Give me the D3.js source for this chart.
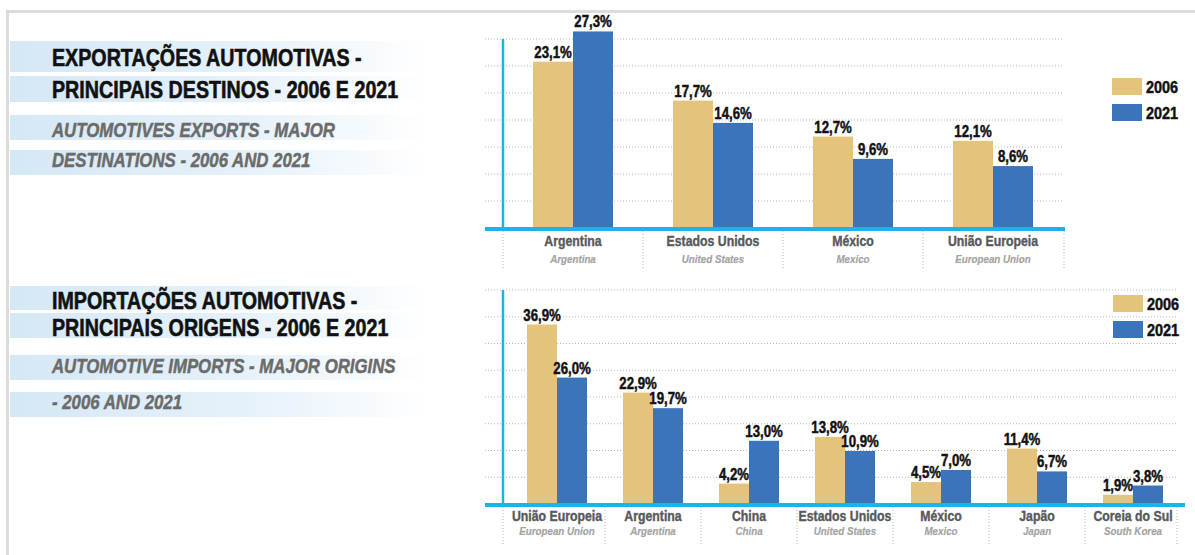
<!DOCTYPE html>
<html>
<head>
<meta charset="utf-8">
<title>Exportações e importações automotivas</title>
<script src="https://cdn.jsdelivr.net/npm/d3@7/dist/d3.min.js"></script>
<style>
  body { margin: 0; background: #fff; }
  svg { display: block; font-family: "Liberation Sans", Arial, sans-serif; }
</style>
</head>
<body>
<svg id="chart" width="1195" height="555"></svg>
<script>
// data
var years = ["2006", "2021"];

var expCats = ["Argentina", "Estados Unidos", "México", "União Europeia"];
var expCatsEn = ["Argentina", "United States", "Mexico", "European Union"];
var exp2006 = [23.1, 17.7, 12.7, 12.1];
var exp2021 = [27.3, 14.6, 9.6, 8.6];

var impCats = ["União Europeia", "Argentina", "China", "Estados Unidos", "México", "Japão", "Coreia do Sul"];
var impCatsEn = ["European Union", "Argentina", "China", "United States", "Mexico", "Japan", "South Korea"];
var imp2006 = [36.9, 22.9, 4.2, 13.8, 4.5, 11.4, 1.9];
var imp2021 = [26.0, 19.7, 13.0, 10.9, 7.0, 6.7, 3.8];

var expTitle = ["EXPORTAÇÕES AUTOMOTIVAS -", "PRINCIPAIS DESTINOS - 2006 E 2021"];
var expSub = ["AUTOMOTIVES EXPORTS - MAJOR", "DESTINATIONS - 2006 AND 2021"];
var impTitle = ["IMPORTAÇÕES AUTOMOTIVAS -", "PRINCIPAIS ORIGENS - 2006 E 2021"];
var impSub = ["AUTOMOTIVE IMPORTS - MAJOR ORIGINS", "- 2006 AND 2021"];

var color = {"2006": "#e4c47c", "2021": "#3a74ba"};
var cyan = "#1db2ea";
var fmt = function(v) { return d3.format(".1f")(v).replace(".", ",") + "%"; };

var svg = d3.select("#chart");

// gradient for the title stripes
var grad = svg.append("defs").append("linearGradient")
    .attr("id", "stripe")
    .attr("x1", 0).attr("x2", 1).attr("y1", 0).attr("y2", 0);
grad.append("stop").attr("offset", 0).attr("stop-color", "#d5e8f6");
grad.append("stop").attr("offset", 0.55).attr("stop-color", "#e5f1fa");
grad.append("stop").attr("offset", 1).attr("stop-color", "#ffffff");

// frame
svg.append("line").attr("x1", 6).attr("x2", 1195).attr("y1", 11.5).attr("y2", 11.5)
    .attr("stroke", "#dcdcdc").attr("stroke-width", 3);
svg.append("line").attr("x1", 7.5).attr("x2", 7.5).attr("y1", 10).attr("y2", 555)
    .attr("stroke", "#dcdcdc").attr("stroke-width", 3);

// condensed, heavy text (scaled horizontally, thickened with a stroke)
function ctext(g, x, y, str, size, fill, sq, heavy) {
    return g.append("text")
        .attr("transform", "translate(" + x + "," + y + ") scale(" + sq + ",1)")
        .attr("font-size", size).attr("font-weight", "bold")
        .attr("fill", fill).attr("stroke", fill).attr("stroke-width", heavy)
        .text(str);
}

function drawTitle(lines, subs, stripes, bases) {
    var g = svg.append("g");
    g.selectAll("rect").data(stripes).join("rect")
        .attr("x", 10).attr("width", 420)
        .attr("y", d => d[0]).attr("height", d => d[1] - d[0])
        .attr("fill", "url(#stripe)");
    lines.forEach(function(t, i) {
        ctext(g, 52, bases[i], t, 24, "#111", 0.82, 0.6);
    });
    subs.forEach(function(t, i) {
        ctext(g, 52, bases[i + 2], t, 21, "#6b6b6b", 0.8, 0.5)
            .attr("font-style", "italic");
    });
}

function drawChart(o) {
    var g = svg.append("g");
    var x = d3.scaleBand().domain(o.cats).range([o.bandL, o.bandR]);
    var xi = d3.scaleBand().domain(years).range([0, x.bandwidth()]).paddingOuter(o.pad);
    var y = d3.scaleLinear().domain([0, o.step * o.nGrid]).range([o.base, o.top]);

    // dotted grid
    g.selectAll("line.grid").data(d3.range(1, o.nGrid + 1).map(k => k * o.step)).join("line")
        .attr("class", "grid")
        .attr("x1", o.left - 18).attr("x2", o.gridEnd)
        .attr("y1", d => y(d)).attr("y2", d => y(d))
        .attr("stroke", "#b5b5b5").attr("stroke-dasharray", "1,2");

    // category separators
    var seps = [o.left].concat(o.cats.slice(1).map(c => x(c))).concat([o.gridEnd]);
    g.selectAll("line.sep").data(seps).join("line")
        .attr("class", "sep")
        .attr("x1", d => d).attr("x2", d => d)
        .attr("y1", o.base + 3).attr("y2", o.base + 40)
        .attr("stroke", "#b5b5b5").attr("stroke-dasharray", "1,2");

    var rows = o.cats.map((c, i) => ({cat: c, en: o.catsEn[i], vals: [o.v06[i], o.v21[i]]}));
    var grp = g.selectAll("g.cat").data(rows).join("g")
        .attr("class", "cat")
        .attr("transform", d => "translate(" + x(d.cat) + ",0)");

    var bars = grp.selectAll("g.bar").data(d => d.vals.map((v, j) => ({year: years[j], v: v}))).join("g")
        .attr("class", "bar");
    bars.append("rect")
        .attr("x", d => xi(d.year)).attr("width", xi.bandwidth())
        .attr("y", d => y(d.v)).attr("height", d => o.base - y(d.v))
        .attr("fill", d => color[d.year]);
    bars.each(function(d) {
        ctext(d3.select(this), xi(d.year) + xi.bandwidth() / 2, y(d.v) - 4, fmt(d.v), 16.5, "#111", 0.8, 0.5)
            .attr("text-anchor", "middle");
    });

    grp.each(function(d) {
        var s = d3.select(this);
        ctext(s, x.bandwidth() / 2, o.base + o.lab1, d.cat, 15, "#58595b", 0.82, 0.4)
            .attr("text-anchor", "middle");
        ctext(s, x.bandwidth() / 2, o.base + o.lab2, d.en, 11.5, "#a3a3a3", 0.85, 0.2)
            .attr("text-anchor", "middle").attr("font-style", "italic");
    });

    // axes
    g.append("line").attr("x1", o.left).attr("x2", o.left)
        .attr("y1", o.axisTop).attr("y2", o.base)
        .attr("stroke", cyan).attr("stroke-width", 2.5);
    g.append("line").attr("x1", o.left - 18).attr("x2", o.baseEnd)
        .attr("y1", o.base + 1).attr("y2", o.base + 1)
        .attr("stroke", cyan).attr("stroke-width", 4);

    // legend
    var lg = g.selectAll("g.leg").data(years).join("g")
        .attr("class", "leg")
        .attr("transform", (d, i) => "translate(" + o.legX + "," + (o.legY + i * 26) + ")");
    lg.append("rect").attr("width", 30).attr("height", 17).attr("fill", d => color[d]);
    lg.each(function(d) {
        ctext(d3.select(this), 34, 15, d, 17, "#111", 0.85, 0.5);
    });
}

drawTitle(expTitle, expSub, [[41, 72], [76, 102], [115, 140], [150, 175]], [66, 98, 137, 167]);
drawTitle(impTitle, impSub, [[286, 310], [313, 338], [355, 380], [392, 417]], [309, 336, 373, 409]);

drawChart({cats: expCats, catsEn: expCatsEn, v06: exp2006, v21: exp2021,
    left: 503, bandL: 503, bandR: 1063, pad: 0.75, base: 228, top: 39, axisTop: 39,
    step: 3.75, nGrid: 7, gridEnd: 1064, baseEnd: 1065,
    lab1: 18, lab2: 35, legX: 1112, legY: 78});

drawChart({cats: impCats, catsEn: impCatsEn, v06: imp2006, v21: imp2021,
    left: 503, bandL: 509, bandR: 1181, pad: 0.6, base: 504, top: 290, axisTop: 290,
    step: 5.5, nGrid: 8, gridEnd: 1177, baseEnd: 1185,
    lab1: 17, lab2: 31, legX: 1113, legY: 295});
</script>
</body>
</html>
